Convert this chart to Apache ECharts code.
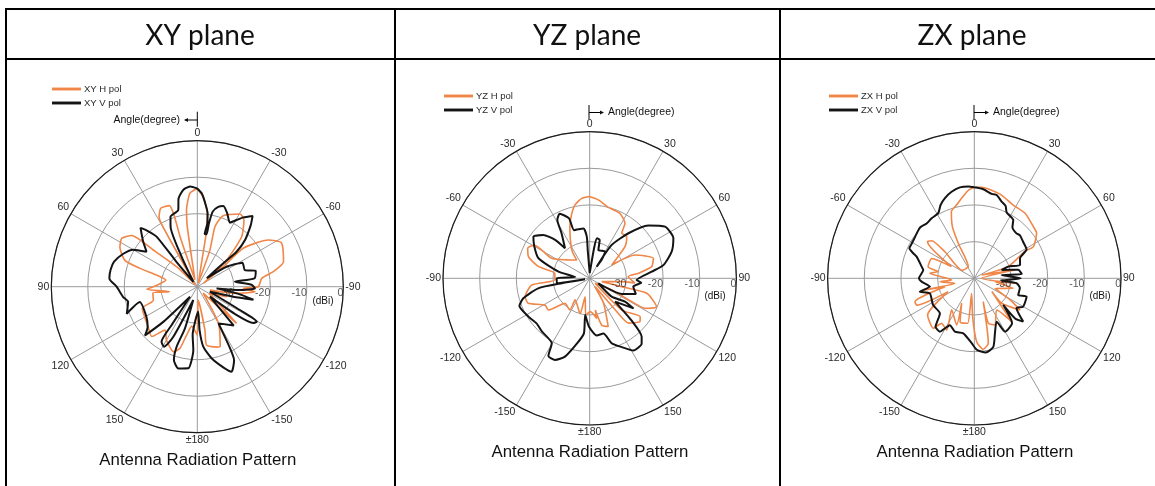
<!DOCTYPE html>
<html><head><meta charset="utf-8">
<style>html,body{margin:0;padding:0;background:#fff}#c{width:1155px;height:486px}</style>
<script src="https://cdn.jsdelivr.net/npm/echarts@6/dist/echarts.min.js"></script>
</head><body><div id="c"></div>
<script>
// Angle in degrees as labelled on each plot (wrapped to -180..180 when plotted), level in dBi
const xyHAngle=[0,-3.4,-7.8,-9.4,-10,-16,-19,-16.4,-20,-30.4,-35,-41.6,-47.7,-61,-52.4,-50,-56.7,-62.4,-73.8,-78.8,-82.6,-90,-92,-95,-99.6,-105,-108.8,-120,-130,-133,-138,-150,-159,-162,-171,-170,-176,-180,-188,-192.4,-195.7,-200,-210,-216.7,-222.4,-230.8,-248.5,-253,-262,-260,-267,-272,-282,-286,-287.7,-290,-297,-302.6,-308,-309.8,-314,-315,-330,-331.3,-335,-341,-342,-341,-341,-350.5,-352,-355.5,-360];
const xyHDb=[-13.1,-15.2,-19.7,-24.3,-33,-39,-29.4,-22.8,-19.3,-16.9,-17.7,-21.7,-29.1,-38,-31,-23.6,-16.7,-14,-15.4,-18.8,-22.2,-23.3,-27.4,-24.1,-29,-36.4,-31.5,-36.3,-30.8,-25.3,-37.6,-28.4,-22.5,-22.6,-23.8,-28,-36.3,-26.8,-29.1,-26.5,-22.5,-21,-23.1,-25.2,-21.5,-22.6,-23.8,-27.4,-27.7,-32.2,-26.1,-28.9,-31.2,-28.4,-23.5,-18.9,-16.2,-15.4,-17.2,-24.3,-32.1,-39.2,-23.1,-18.2,-16.3,-16.5,-19.4,-25.5,-38,-23.4,-18.8,-14.3,-13.1];
const xyVAngle=[0,-2.7,-5,-8,-9,-8,-10,-10.4,-11.6,-14.7,-17.9,-22.2,-27,-30.5,-33.6,-38,-40.9,-45.6,-48.3,-48,-48,-55.7,-62,-70.7,-74.7,-81.7,-82.4,-88,-91.7,-94.5,-95,-99.6,-103,-105.5,-112,-118.7,-120.5,-123,-125.8,-128,-136.8,-150,-152,-153.4,-158,-162,-168.7,-174.3,-177,-178,-185.5,-183.6,-186.3,-193,-197.7,-199,-196.5,-197,-205.6,-209,-213,-213.8,-216,-224,-227,-231,-239.4,-255,-249,-257.7,-262,-270,-275.4,-281,-286.7,-294,-300,-304.6,-309.8,-316,-318,-320.9,-320,-321,-332.4,-336,-339,-346,-348,-352,-356,-360];
const xyVDb=[-13.1,-14.4,-16.6,-19.7,-22.5,-25.4,-25.4,-22.4,-19,-17.4,-16.8,-18.3,-20.3,-18.8,-17.2,-15.4,-17.6,-21.7,-25.6,-30.4,-36.5,-30.3,-26,-26.2,-23.4,-24.2,-29.6,-25.1,-24.2,-28.3,-34.7,-29,-24.2,-29.8,-36.3,-26.7,-21.1,-21.7,-26.8,-35.6,-25.4,-28.4,-20.9,-17.5,-14.9,-16.7,-20,-23.5,-28.1,-33.2,-26.7,-22.6,-17.5,-17,-18.9,-22.6,-28.1,-36.2,-24.8,-21.2,-22,-27.4,-36.6,-26.7,-20.4,-22.5,-23.8,-23.7,-19.3,-20.6,-19.5,-17.9,-15.8,-15.8,-16.2,-17.8,-19.7,-23.1,-20.7,-17.6,-19.2,-22.3,-31.1,-38.3,-30.7,-22,-19.5,-18.4,-15.3,-13.1,-12.5,-13.1];
const yzHAngle=[0,6.3,14.7,25,32.7,35.4,41.6,48,58.8,62.8,72.6,79.3,84,87.5,96,96,105.5,104.6,104.7,113,118.5,119,118,133,134.7,127.3,130.7,139,141,147,151,159,165.6,170,170,179,186,194,195,214,212,224.6,232.5,239,248,254,263.4,267,278,283,289.4,296,301,297.8,324.7,327.6,339,344,348.7,354.3,360];
const yzHDb=[-17.7,-18.5,-20,-20.5,-22.2,-24.9,-24.8,-27,-33,-26.1,-21.8,-22.8,-26.6,-29.5,-27.6,-31.3,-36.6,-31,-23.9,-20.2,-22.8,-26.9,-33.2,-38,-27.7,-22.7,-21.9,-23.8,-28.9,-37.3,-32.2,-25.9,-26.8,-31.2,-28.9,-30.9,-29.9,-34.8,-30,-32.9,-29.8,-30.4,-25.8,-25.8,-21.9,-21.7,-24.1,-30.5,-30.4,-25.6,-22.3,-21.2,-22.5,-28.3,-33.9,-30.9,-24.9,-22,-19.6,-18.1,-17.7];
const yzVAngle=[0,8.4,10.4,14.6,17,30,33,31,33.4,40.7,47.9,55.6,64.4,72,79.7,83.9,92,94.8,100.8,108.8,116,120,130,123.4,124.5,132.6,135.4,138.3,141.6,148.9,155,161.3,166,173,180.8,187,186,191,197.5,203,208,210.3,222,229.7,238,248.5,253.2,259,260,258,261,270,275,282,291.3,299.8,306.5,313,318,320.6,328,331,335,341,342,352.8,356,356,360];
const yzVDb=[-38.6,-31.3,-28.9,-29.2,-31.9,-31.6,-34,-36.3,-29.1,-23.8,-18.5,-15.1,-14.7,-16.5,-19.5,-23,-27.2,-25.9,-27.9,-26.7,-30.3,-37.3,-32.2,-28.5,-25.5,-30.6,-23.4,-18.7,-17.2,-17,-19.3,-21.3,-24.5,-24.3,-26.8,-29.9,-24.9,-21.9,-17.6,-15.8,-16,-19.5,-20.5,-21,-20.3,-19.4,-21.1,-25.7,-32.3,-38.7,-30.9,-31,-36,-31.3,-25,-22.6,-20.9,-22.7,-25.9,-29.4,-25.5,-21.8,-20.6,-22.7,-26.2,-26.3,-28.6,-32.3,-38.6];
const zxHAngle=[0,4.6,17,28,38,48.8,54,61.8,62,71,66,78.4,90,97,99,104.4,116,121,124.7,132.4,127,139.3,144.8,156,162.7,159,167.8,172.8,177.9,182.5,190,188.4,198,207,200.7,215.6,208,216,219.4,231.8,243,245,248.5,254,257,255.5,264.4,266,276.4,280.5,284,295,297,308,311.4,312,303,333,335.4,337,341,346.5,351,356,360];
const zxHDb=[-15.2,-15.1,-16,-17.4,-17.5,-18.6,-19,-21.7,-24.4,-30.2,-37.8,-28.7,-38,-28.8,-34.3,-29,-33.7,-28.6,-24.8,-29.9,-34,-24.4,-29.4,-26.1,-27.2,-33.2,-21.9,-20.5,-22.7,-29.5,-35.8,-27.6,-27.5,-32.4,-26.4,-29.4,-24,-24.8,-22.4,-23.8,-32,-22.7,-22.6,-31.7,-25.7,-34.5,-30.6,-33.8,-27.8,-30,-27,-27.2,-33,-23.8,-24.5,-29.2,-36,-36.4,-29.5,-24.7,-20.8,-19.4,-17.9,-16,-15.2];
const zxVAngle=[0,5.8,11.6,15,19.6,23.4,26.2,33.8,36.7,43.2,46.7,53.4,61,66.4,73.7,71,73,79,84.8,83,90,95,96.7,102,110.7,109.3,120,125.3,131.5,134.5,132.6,140,150,152.7,159.4,164.5,171.3,178,182.3,191.3,200,207.5,212.8,218.7,224.4,237,251.3,256.2,259.4,266.4,270,279.3,282.5,290.6,292.3,294.8,299.2,308,313.2,319,324.6,331,335.3,339.9,345.3,351,356.3,360];
const zxVDb=[-15.2,-15.6,-16.5,-16.5,-17.8,-18.5,-20,-20.9,-22.6,-23.2,-22.9,-23.4,-23.7,-26.4,-27,-30.2,-32.2,-27.8,-27,-32.5,-27.3,-32.5,-28.4,-27.3,-27.2,-24.9,-24.6,-25.9,-22.2,-24.4,-29.3,-24,-23.2,-26.7,-24,-20.6,-19.5,-20.5,-22.3,-24.7,-24.5,-25.6,-22.7,-23.1,-26.6,-26.6,-27.2,-24.7,-27.7,-25.6,-24.9,-25.9,-25.3,-23.2,-22,-20.5,-20.5,-20.1,-19.7,-20.2,-19.9,-19.7,-18,-16.7,-15.6,-14.9,-14.9,-15.2];
const radialTicks=[-30,-20,-10,0];
const planeTitles=['XY plane','YZ plane','ZX plane'];
const H='#F08648',V='#141414',TXT='#2a2a2a',GRID='#9a9a9a',FONT='"Liberation Sans",Arial,sans-serif';

const wrap=a=>{let x=((a+180)%360+360)%360-180;return (x===-180&&a>0)?180:x;};
const pts=(ang,db)=>ang.map((a,i)=>[db[i],wrap(a)]);

const plots=[
 {c:[197.3,286.7],r:146,cw:false,side:-90,hN:'XY H pol',vN:'XY V pol',h:[xyHAngle,xyHDb],v:[xyVAngle,xyVDb],leg:[52,84]},
 {c:[589.7,278.3],r:146.7,cw:true,side:90,hN:'YZ H pol',vN:'YZ V pol',h:[yzHAngle,yzHDb],v:[yzVAngle,yzVDb],leg:[444,91]},
 {c:[974.3,278.3],r:146.7,cw:true,side:90,hN:'ZX H pol',vN:'ZX V pol',h:[zxHAngle,zxHDb],v:[zxVAngle,zxVDb],leg:[829,91]}
];
const polar=[],angleAxis=[],radiusAxis=[],series=[],legend=[];
plots.forEach((p,i)=>{
 polar.push({center:p.c,radius:p.r});
 angleAxis.push({polarIndex:i,type:'value',min:-180,max:180,interval:30,startAngle:270,clockwise:p.cw,
  axisLine:{show:true,lineStyle:{color:'#1c1c1c',width:1.2}},axisTick:{show:false},
  splitLine:{show:true,lineStyle:{color:GRID,width:1}},minorTick:{show:false},
  axisLabel:{show:true,margin:2,fontSize:10.5,color:TXT,fontFamily:FONT,
   formatter:v=>v===-180?'±180':(v===180?'':String(v))}});
 radiusAxis.push({polarIndex:i,type:'value',min:-40,max:0,interval:10,
  axisLine:{show:false},axisTick:{show:false},axisLabel:{show:false},
  splitLine:{show:true,lineStyle:{color:GRID,width:1}}});
 series.push({name:p.hN,type:'line',coordinateSystem:'polar',polarIndex:i,data:pts(p.h[0],p.h[1]),smooth:0.2,showSymbol:false,symbol:'none',lineStyle:{color:H,width:1.6},itemStyle:{color:H},silent:true,animation:false,z:3});
 series.push({name:p.vN,type:'line',coordinateSystem:'polar',polarIndex:i,data:pts(p.v[0],p.v[1]),smooth:0.2,showSymbol:false,symbol:'none',lineStyle:{color:V,width:2},itemStyle:{color:V},silent:true,animation:false,z:4});
 series.push({name:'ticks'+i,type:'scatter',coordinateSystem:'polar',polarIndex:i,symbolSize:0,silent:true,animation:false,z:5,
  data:radialTicks.map(t=>[t,p.side]),
  label:{show:true,position:'left',distance:0,offset:[0,6],fontSize:10.5,color:TXT,fontFamily:FONT,formatter:o=>String(o.value[0])}});
 legend.push({data:[p.hN,p.vN],orient:'vertical',left:p.leg[0],top:p.leg[1],itemWidth:29,itemHeight:10,itemGap:4,padding:0,
  textStyle:{fontSize:9.5,color:TXT,fontFamily:FONT,padding:[0,0,0,-2]},icon:'path://M0 45H100V55H0Z',selectedMode:false});
});

const txt=(x,y,s,size,align,font,extra)=>({type:'text',silent:true,x,y,style:Object.assign({text:s,fontSize:size,fill:'#111',align:align||'center',verticalAlign:'middle',fontFamily:font||FONT},extra||{})});
const ln=(x1,y1,x2,y2,w,c)=>({type:'line',silent:true,shape:{x1,y1,x2,y2},style:{stroke:c||'#000',lineWidth:w}});
const graphic=[
 ln(5,9,1155,9,2),ln(5,59,1155,59,2),ln(6,8,6,486,2),ln(395,8,395,486,2),ln(780,8,780,486,2),
 txt(200,36,planeTitles[0],28,'center','Lato'),txt(587,36,planeTitles[1],28,'center','Lato'),txt(972,36,planeTitles[2],28,'center','Lato'),
 txt(197.8,460.7,'Antenna Radiation Pattern',16.8),txt(590,452.7,'Antenna Radiation Pattern',16.8),txt(975,452.7,'Antenna Radiation Pattern',16.8),
 txt(180,120,'Angle(degree)',10.5,'right'),ln(197.3,111.7,197.3,126.7,1),ln(197.3,120,185,120,1),{type:'polygon',silent:true,shape:{points:[[184,120],[188,118],[188,122]]},style:{fill:'#111'}},
 txt(608,112.5,'Angle(degree)',10.5,'left'),ln(589,105,589,119,1),ln(589,112.5,601,112.5,1),{type:'polygon',silent:true,shape:{points:[[604,112.5],[600,110.5],[600,114.5]]},style:{fill:'#111'}},
 txt(993,112.5,'Angle(degree)',10.5,'left'),ln(974,105,974,119,1),ln(974,112.5,986,112.5,1),{type:'polygon',silent:true,shape:{points:[[989,112.5],[985,110.5],[985,114.5]]},style:{fill:'#111'}},
 txt(323,301.5,'(dBi)',10),txt(715,296,'(dBi)',10),txt(1100,296,'(dBi)',10)
];
const chart=echarts.init(document.getElementById('c'),null,{renderer:'canvas'});
chart.setOption({animation:false,backgroundColor:'#fff',tooltip:{show:false},polar,angleAxis,radiusAxis,series,legend,graphic});
</script></body></html>
